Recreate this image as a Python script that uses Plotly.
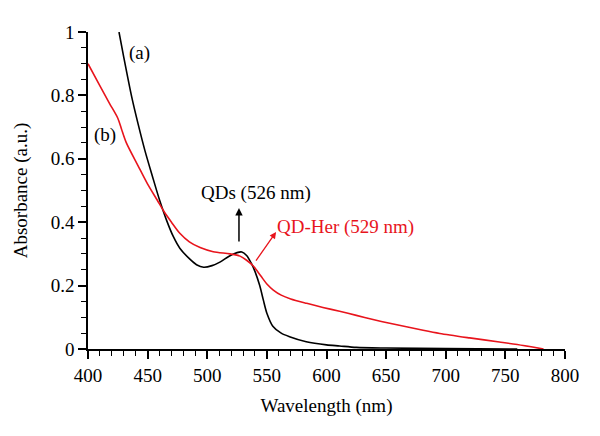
import plotly.graph_objects as go

# Curve (a): QDs
wl_a = [426, 430, 436.6, 442, 447.8, 454, 460, 466, 471.5, 477, 485, 491, 497, 504, 511, 518, 525, 529,
        533, 537, 540, 544, 547, 550, 555, 562, 569, 583, 600, 611, 625, 650, 700, 760]
abs_a = [1.0, 0.92, 0.796, 0.71, 0.625, 0.545, 0.47, 0.405, 0.355, 0.318, 0.285, 0.266, 0.258, 0.263, 0.275,
         0.292, 0.304, 0.306, 0.295, 0.27, 0.245, 0.2, 0.155, 0.113, 0.072, 0.05, 0.039, 0.023, 0.013, 0.0095,
         0.005, 0.003, 0.0015, 0.0]

# Curve (b): QD-Her
wl_b = [400, 410, 418, 425, 428, 432, 442, 450, 458, 464, 470, 477, 485, 494, 505, 519, 527.5, 533, 538.6,
        545, 550, 555.4, 562, 570, 583.4, 597, 611, 625, 639, 653, 667, 681, 695, 720, 745, 765, 782]
abs_b = [0.9, 0.83, 0.775, 0.728, 0.695, 0.652, 0.578, 0.52, 0.47, 0.432, 0.40, 0.365, 0.338, 0.32, 0.307,
         0.30, 0.293, 0.28, 0.262, 0.23, 0.205, 0.186, 0.17, 0.158, 0.144, 0.131, 0.119, 0.106, 0.093, 0.081,
         0.070, 0.059, 0.049, 0.035, 0.022, 0.011, 0.0]

RED = "#e8141c"
FONT = "Liberation Serif"
FS = 19

fig = go.Figure()
fig.add_trace(go.Scatter(x=wl_a, y=abs_a, mode="lines",
                         line=dict(color="black", width=1.6, shape="spline", smoothing=0.8), showlegend=False))
fig.add_trace(go.Scatter(x=wl_b, y=abs_b, mode="lines",
                         line=dict(color=RED, width=1.6, shape="spline", smoothing=0.8), showlegend=False))

fig.add_annotation(x=443.6, y=0.933, text="(a)", showarrow=False, font=dict(size=FS, color="black", family=FONT))
fig.add_annotation(x=414, y=0.675, text="(b)", showarrow=False, font=dict(size=FS, color="black", family=FONT))
fig.add_annotation(x=540.9, y=0.492, text="QDs (526 nm)", showarrow=False,
                   font=dict(size=FS, color="black", family=FONT))
fig.add_annotation(x=526.6, y=0.445, ax=526.6, ay=0.334, axref="x", ayref="y", xref="x", yref="y",
                   text="", showarrow=True, arrowhead=2, arrowsize=1, arrowwidth=1.5, arrowcolor="black")
fig.add_annotation(x=557.0, y=0.385, text="QD-Her (529 nm)", showarrow=False, xanchor="left",
                   font=dict(size=FS, color=RED, family=FONT))
fig.add_annotation(x=557.7, y=0.369, ax=540, ay=0.274, axref="x", ayref="y", xref="x", yref="y",
                   text="", showarrow=True, arrowhead=2, arrowsize=1, arrowwidth=1.3, arrowcolor=RED)

fig.update_xaxes(range=[400, 800], dtick=50, tick0=400, showline=True, linecolor="black", linewidth=1.5,
                 ticks="outside", ticklen=8, tickwidth=1.5, tickcolor="black", showgrid=False, zeroline=False,
                 automargin=False,
                 minor=dict(dtick=10, ticks="outside", ticklen=5, tickwidth=1.2, tickcolor="black"),
                 title=dict(text="Wavelength (nm)", font=dict(size=FS, family=FONT, color="black"), standoff=14),
                 tickfont=dict(size=FS, family=FONT, color="black"))
fig.update_yaxes(range=[0, 1], dtick=0.2, tick0=0, showline=True, linecolor="black", linewidth=1.5,
                 ticks="outside", ticklen=8, tickwidth=1.5, tickcolor="black", showgrid=False, zeroline=False,
                 automargin=False,
                 minor=dict(dtick=0.05, ticks="outside", ticklen=5, tickwidth=1.2, tickcolor="black"),
                 title=dict(text="Absorbance (a.u.)", font=dict(size=FS, family=FONT, color="black"), standoff=18),
                 tickfont=dict(size=FS, family=FONT, color="black"))

fig.update_layout(width=600, height=436, margin=dict(l=80, r=43, t=24, b=95),
                  paper_bgcolor="white", plot_bgcolor="white", font=dict(family=FONT))

fig.write_html("out.html")
